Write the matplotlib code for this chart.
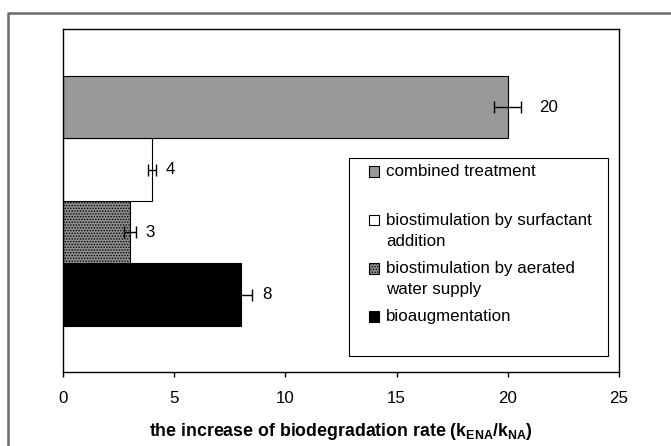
import matplotlib
matplotlib.use("Agg")
import matplotlib.pyplot as plt
from matplotlib.patches import Patch, Rectangle
from matplotlib.lines import Line2D
from matplotlib.legend_handler import HandlerPatch

plt.rcParams['font.family'] = ['Liberation Sans', 'DejaVu Sans']
plt.rcParams['mathtext.fontset'] = 'custom'
plt.rcParams['mathtext.rm'] = 'Liberation Sans'
plt.rcParams['mathtext.bf'] = 'Liberation Sans:bold'
plt.rcParams['hatch.linewidth'] = 0.7

# ---- data (bottom to top) ----
categories = ["bioaugmentation",
              "biostimulation by aerated\nwater supply",
              "biostimulation by surfactant\naddition",
              "combined treatment"]
values = [8, 3, 4, 20]
errors = [0.5, 0.27, 0.17, 0.6]
value_labels = ["8", "3", "4", "20"]
xticks = [0, 5, 10, 15, 20, 25]

# ---- styles ----
facecolors = ["black", "#8e8e8e", "white", "#999999"]
hatches = [None, "......", None, None]
label_pad_pt = [7, 7, 7, 13]
FS = 12.2
LINESP = 1.52

fig = plt.figure(figsize=(6.71, 4.46), dpi=100)
ax = fig.add_axes([63/671, 1-372/446, (619-63)/671, (372-29)/446])

ypos = list(range(len(values)))
for i, (v, e) in enumerate(zip(values, errors)):
    ax.barh(ypos[i], v, height=1.0, color=facecolors[i], edgecolor="black",
            linewidth=0.8, hatch=hatches[i], zorder=2)
ax.errorbar(values, ypos, xerr=errors, fmt="none", ecolor="black",
            elinewidth=1, capsize=4.5, capthick=1, zorder=3)
for i, (v, e) in enumerate(zip(values, errors)):
    ax.annotate(value_labels[i], xy=(v + e, ypos[i]), xytext=(label_pad_pt[i], 0),
                textcoords="offset points", ha="left", va="center", fontsize=FS)

ax.set_xlim(0, 25)
ax.set_ylim(-1.24, 4.25)
ax.set_xticks(xticks)
ax.set_xticklabels([str(t) for t in xticks], fontsize=FS)
ax.set_yticks([])
ax.tick_params(axis="x", direction="out", length=3.5, width=1, pad=10)
for s in ax.spines.values():
    s.set_linewidth(1)
    s.set_color("black")
ax.set_xlabel(r"the increase of biodegradation rate (k$_\mathbf{ENA}$/k$_\mathbf{NA}$)",
              fontsize=12.8, fontweight="bold", labelpad=11)

# ---- legend ----
class FirstLineHandler(HandlerPatch):
    def create_artists(self, legend, orig_handle, xdescent, ydescent, width,
                       height, fontsize, trans):
        size = 0.62 * fontsize
        shift = 0.645 * fontsize
        x = -xdescent + (width - size) / 2
        y = -ydescent + (height - size) / 2 + shift
        p = Rectangle((x, y), size, size)
        self.update_prop(p, orig_handle, legend)
        p.set_transform(trans)
        return [p]

leg_labels = []
for c in categories:
    leg_labels.append(c if "\n" in c else c + "\n ")
handles = [Patch(facecolor=facecolors[i], edgecolor="black", linewidth=0.8,
                 hatch=hatches[i]) for i in range(len(values))]
order = list(range(len(values)))[::-1]
leg = ax.legend([handles[i] for i in order], [leg_labels[i] for i in order],
                handler_map={Patch: FirstLineHandler()},
                loc="upper left", bbox_to_anchor=(0.549, 0.606),
                frameon=False, fontsize=FS, borderpad=0, borderaxespad=0,
                handlelength=0.7, handleheight=0.7, handletextpad=0.35,
                labelspacing=0.72)
for t in leg.get_texts():
    t.set_linespacing(LINESP)
ax.add_patch(Rectangle((0.514, 0.047), 0.98 - 0.514, 0.624 - 0.047,
                       transform=ax.transAxes, facecolor="none",
                       edgecolor="black", linewidth=0.8, zorder=5))

# ---- outer frame ----
fig.add_artist(Line2D([8/671, 8/671, 1.01], [-0.01, 1-13/446, 1-13/446],
                      transform=fig.transFigure, color="#6a6a6a", linewidth=1.8))

fig.savefig("out.png", dpi=100)
